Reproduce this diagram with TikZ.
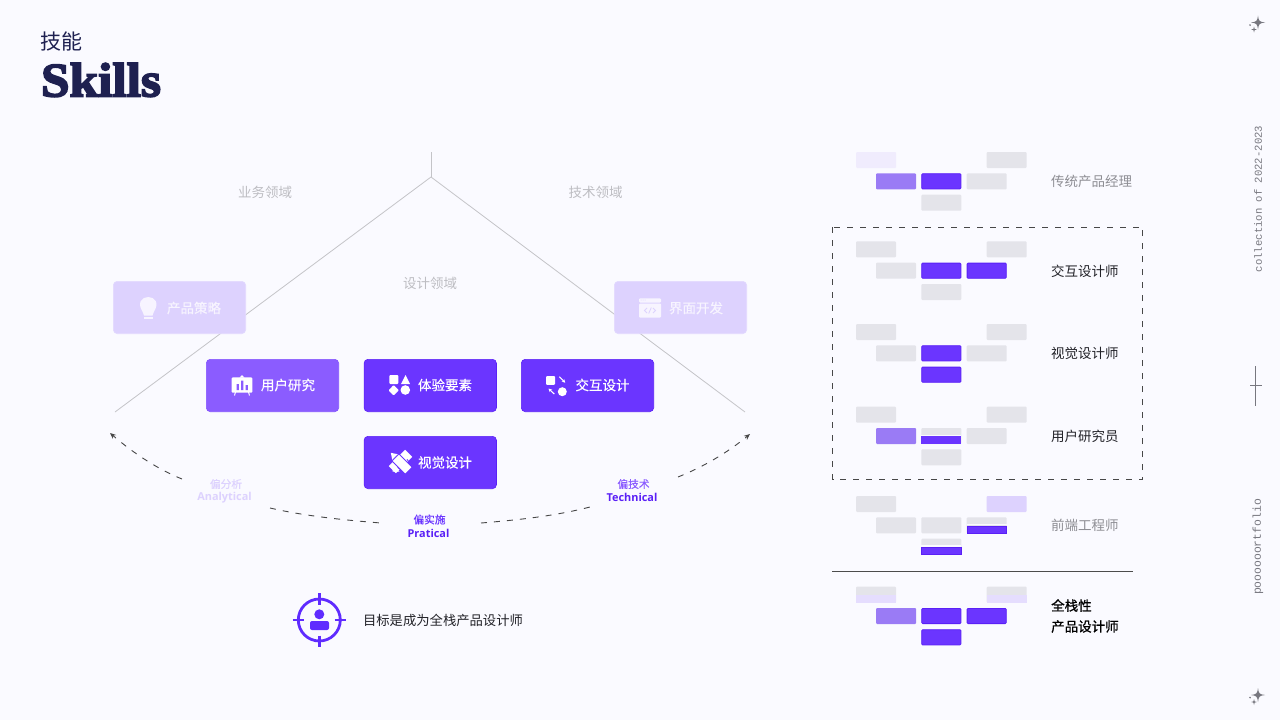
\documentclass[tikz,border=0pt]{standalone}
\usepackage{fontspec}
\usetikzlibrary{arrows.meta}
\newfontfamily\cjk{Noto Sans CJK SC}
\newfontfamily\cjkm[FakeBold=0.35]{Noto Sans CJK SC}
\newfontfamily\cjkb[FakeBold=0.8]{Noto Sans CJK SC}
\newfontfamily\latb{Open Sans}
\newfontfamily\skfont[BoldFeatures={FakeBold=3.6,FakeStretch=1.07}]{Liberation Serif}
\newfontfamily\monof{Liberation Mono}
\newcommand{\fsz}[1]{\fontsize{#1}{#1}\selectfont}
\definecolor{bgc}{HTML}{FAFAFF}
\definecolor{navy}{HTML}{1E2050}
\definecolor{strongfill}{HTML}{6B35FF}
\definecolor{edgep}{HTML}{5A20F6}
\definecolor{midp}{HTML}{8B5CFF}
\definecolor{minimid}{HTML}{9A7BF5}
\definecolor{lightp}{HTML}{DDD2FE}
\definecolor{lightb}{HTML}{E3DAFF}
\definecolor{pale}{HTML}{F0ECFD}
\definecolor{gbox}{HTML}{E4E4EA}
\definecolor{lineg}{HTML}{C4C4C8}
\definecolor{areag}{HTML}{BDBDC2}
\definecolor{roleg}{HTML}{8E8E94}
\definecolor{inkc}{HTML}{222228}
\definecolor{sideg}{HTML}{77777F}
\definecolor{target}{HTML}{5F2BFF}
\tikzset{
  x=1pt,y=-1pt,
  bigbox/.style={minimum width=132.4pt,minimum height=52.4pt,inner sep=0pt,outer sep=0pt,rounded corners=4pt,line width=.6pt},
  boxstrong/.style={bigbox,fill=strongfill,draw=edgep},
  boxmid/.style={bigbox,fill=midp,draw=midp!85!edgep},
  boxlight/.style={bigbox,fill=lightp,draw=lightb},
  boxtext/.style={text=white,font=\cjkm\fsz{13.5},inner sep=0pt},
  lighttext/.style={text=white!75!lightp,font=\cjkm\fsz{13.5},inner sep=0pt},
  areatext/.style={text=areag,font=\cjk\fsz{13.5},inner sep=0pt},
  roletext/.style={anchor=west,font=\cjk\fsz{13.5},inner sep=0pt},
  tinycn/.style={font=\cjkm\fsz{10.7},inner sep=0pt},
  tinyen/.style={font=\latb\bfseries\fsz{10.9},inner sep=0pt},
  mini/.style={minimum width=40pt,minimum height=16pt,inner sep=0pt,outer sep=0pt,rounded corners=1pt},
  mg/.style={mini,fill=gbox},
  ms/.style={mini,minimum width=39.2pt,minimum height=15.2pt,fill=strongfill,draw=edgep,line width=.8pt},
  mm/.style={mini,fill=minimid},
  ml/.style={mini,fill=lightp},
  mp/.style={mini,fill=pale},
  halfs/.style={fill=strongfill,draw=edgep,line width=.6pt},
  dashline/.style={draw=black!72,line width=.9pt,dash pattern=on 6pt off 7pt},
  tip/.style={-{Stealth[length=6pt,width=5pt]}},
  side/.style={font=\monof,text=sideg,rotate=90,inner sep=0pt},
  grayline/.style={draw=lineg,line width=.8pt},
}
\newcommand{\sparkle}[2]{%
  \fill[sideg] (#1,#2-7) .. controls (#1+.6,#2-1.5) and (#1+1.5,#2-.6) .. (#1+7,#2)
    .. controls (#1+1.5,#2+.6) and (#1+.6,#2+1.5) .. (#1,#2+7)
    .. controls (#1-.6,#2+1.5) and (#1-1.5,#2+.6) .. (#1-7,#2)
    .. controls (#1-1.5,#2-.6) and (#1-.6,#2-1.5) .. cycle;
  \fill[sideg] (#1-4,#2+4) -- (#1-3.4,#2+6.4) -- (#1-1.2,#2+7) -- (#1-3.4,#2+7.6) -- (#1-4,#2+10) -- (#1-4.6,#2+7.6) -- (#1-6.8,#2+7) -- (#1-4.6,#2+6.4) -- cycle;
  \fill[sideg] (#1-8,#2+2.6) circle (.9);
}
\begin{document}
\begin{tikzpicture}
\useasboundingbox (0,0) rectangle (1280,720);
\fill[bgc] (0,0) rectangle (1280,720);

% title
\node[anchor=center,inner sep=0pt,text=navy,font=\cjk\fsz{21}] (t1) at (61.5,41.5) {技能};
\node[anchor=center,inner sep=0pt,text=navy,font=\skfont\bfseries\fsz{48}] (t2) at (101,80) {Skills};

% roof lines
\coordinate (roof) at (431,152);
\coordinate (apex) at (431,177);
\coordinate (lfoot) at (115,412);
\coordinate (rfoot) at (745,412);
\draw[grayline] (roof) -- (apex);
\draw[grayline] (lfoot) -- (apex) -- (rfoot);

\node[areatext] (a1) at (265,192) {业务领域};
\node[areatext] (a2) at (595.5,192) {技术领域};
\node[areatext] (a3) at (430,283) {设计领域};

% big boxes
\node[boxlight] (b1) at (179.5,307.5) {};
\node[boxlight] (b2) at (680.5,307.5) {};
\node[boxmid] (b3) at (272.5,385.5) {};
\node[boxstrong] (b4) at (430.25,385.5) {};
\node[boxstrong] (b5) at (587.5,385.5) {};
\node[boxstrong] (b6) at (430.25,462.5) {};
\node[lighttext] (l1) at (194,308) {产品策略};
\node[lighttext] (l2) at (696,308) {界面开发};
\node[boxtext] (l3) at (288,385) {用户研究};
\node[boxtext] (l4) at (445,385) {体验要素};
\node[boxtext] (l5) at (602.5,385) {交互设计};
\node[boxtext] (l6) at (445,462.5) {视觉设计};

% bulb icon
\fill[white!75!lightp] (142.5,311.5) .. controls (137,303) and (141.5,297) .. (148.3,297)
  .. controls (155,297) and (159.5,303) .. (154,311.5) -- (152.5,315.5) -- (144,315.5) -- cycle;
\fill[white!75!lightp] (144,317) rectangle (153,318.8);

% window icon
\fill[white!75!lightp,rounded corners=1pt] (639,298.3) rectangle (661,302.5);
\fill[white!75!lightp,rounded corners=1pt] (639,303.5) rectangle (661,317.7);
\fill[lightp] (641,300) circle (.5) (643,300) circle (.5) (645,300) circle (.5);
\draw[lightp,line width=.8pt] (647,308) -- (644.5,310.5) -- (647,313) (653,308) -- (655.5,310.5) -- (653,313) (651.3,307.5) -- (648.7,313.5);

% board icon
\fill[white,rounded corners=1pt] (231.7,377.3) rectangle (252.3,392.7);
\fill[white] (239.5,377.5) -- (242,375) -- (244.5,377.5) -- cycle;
\draw[white,line width=1pt] (235.5,392) -- (234.5,395.5) (248.5,392) -- (249.5,395.5);
\fill[midp] (236.5,384) rectangle (238.8,390) (241,380.5) rectangle (243.3,390) (245.5,385) rectangle (247.8,390);

% shapes icon
\fill[white,rounded corners=1pt] (389.3,375) rectangle (398.3,384);
\fill[white] (401,384) -- (405.5,375) -- (410,384) -- cycle;
\fill[white,rounded corners=.8pt] (393.7,385) -- (398.9,390.3) -- (393.7,395.5) -- (388.5,390.3) -- cycle;
\fill[white] (405.3,390) circle (4.8);

% interaction icon
\fill[white,rounded corners=1pt] (546,376) rectangle (555,384.8);
\fill[white] (562.3,391.7) circle (4.5);
\draw[white,line width=1.1pt,-{Stealth[length=3.5pt,width=3.5pt]}] (559.3,376.7) -- (565.3,382.7);
\draw[white,line width=1.1pt,-{Stealth[length=3.5pt,width=3.5pt]}] (554.3,394) -- (548.5,388.6);

% pencil / ruler icon
\begin{scope}[shift={(400.5,461.5)},rotate=45]
  \fill[white] (-11.5,-5) rectangle (11.5,5);
  \draw[strongfill,line width=.9pt] (-6,5) -- (-6,2) (-2,5) -- (-2,3) (2,5) -- (2,2) (6,5) -- (6,3);
\end{scope}
\begin{scope}[shift={(400,462)},rotate=-45]
  \fill[white] (-6,-4.6) rectangle (12,4.6);
  \fill[white] (-6,-4.6) -- (-13,0) -- (-6,4.6) -- cycle;
  \draw[strongfill,line width=.9pt] (-6.5,-5) rectangle (12.5,5);
\end{scope}
\fill[white] (392.5,471.5) -- (392.5,464.5) -- (399.5,471.5) -- cycle;

% arc
\coordinate (d1a) at (182,479);
\coordinate (d1b) at (110,433);
\coordinate (d2a) at (270,508);
\coordinate (d2b) at (381,523);
\coordinate (d3a) at (481,523);
\coordinate (d3b) at (590,507);
\coordinate (d4a) at (678,477);
\coordinate (d4b) at (750,434);
\draw[dashline,tip] (d1a) .. controls (157,469) and (132,452) .. (d1b);
\draw[dashline] (d2a) .. controls (305,516) and (343,520) .. (d2b);
\draw[dashline] (d3a) .. controls (518,520) and (555,516) .. (d3b);
\draw[dashline,tip] (d4a) .. controls (703,467) and (727,453) .. (d4b);

\node[tinycn,text=lightp] (p1) at (226,484) {偏分析};
\node[tinyen,text=lightp] (p2) at (224.5,498) {Analytical};
\node[tinycn,text=strongfill] (p3) at (429.5,519.5) {偏实施};
\node[tinyen,text=edgep] (p4) at (428.5,533) {Pratical};
\node[tinycn,text=midp] (p5) at (633.5,484) {偏技术};
\node[tinyen,text=edgep] (p6) at (632,497) {Technical};

% target icon
\draw[target,line width=2.8pt] (319.3,620) circle (21);
\draw[target,line width=2.4pt] (292.7,620) -- (304,620) (334.6,620) -- (346,620) (319.3,593) -- (319.3,604.5) (319.3,635.5) -- (319.3,646.7);
\fill[target] (319.3,614.3) circle (5);
\fill[target,rounded corners=2pt] (310,621) rectangle (329,630);
\node[anchor=center,inner sep=0pt,text=inkc,font=\cjk\fsz{13.33}] (goal) at (443,620.5) {目标是成为全栈产品设计师};

% minis: group 1
\node[mp] (g1a) at (876,160) {};
\node[mg] (g1b) at (1006.7,160) {};
\node[mm] (g1c) at (896,181.3) {};
\node[ms] (g1d) at (941.3,181.3) {};
\node[mg] (g1e) at (986.7,181.3) {};
\node[mg] (g1f) at (941.3,202.7) {};
% group 2
\node[mg] (g2a) at (876,249.3) {};
\node[mg] (g2b) at (1006.7,249.3) {};
\node[mg] (g2c) at (896,270.7) {};
\node[ms] (g2d) at (941.3,270.7) {};
\node[ms] (g2e) at (986.7,270.7) {};
\node[mg] (g2f) at (941.3,292) {};
% group 3
\node[mg] (g3a) at (876,332) {};
\node[mg] (g3b) at (1006.7,332) {};
\node[mg] (g3c) at (896,353.3) {};
\node[ms] (g3d) at (941.3,353.3) {};
\node[mg] (g3e) at (986.7,353.3) {};
\node[ms] (g3f) at (941.3,374.7) {};
% group 4
\node[mg] (g4a) at (876,414.7) {};
\node[mg] (g4b) at (1006.7,414.7) {};
\node[mm] (g4c) at (896,436) {};
\node[mg] (g4d) at (941.3,436) {};
\fill[bgc] (921.3,434.8) rectangle (961.3,436);
\fill[strongfill] (921.3,436) rectangle (961.3,444);
\node[mg] (g4e) at (986.7,436) {};
\node[mg] (g4f) at (941.3,457.3) {};
% group 5
\node[mg] (g5a) at (876,504) {};
\node[ml] (g5b) at (1006.7,504) {};
\node[mg] (g5c) at (896,525.3) {};
\node[mg] (g5d) at (941.3,525.3) {};
\node[mg] (g5e) at (986.7,525.3) {};
\fill[bgc] (966.7,524) rectangle (1006.7,525.3);
\path[halfs] (967,525.8) rectangle (1006.4,533);
\node[mg] (g5f) at (941.3,546.7) {};
\fill[bgc] (921.3,545.3) rectangle (961.3,546.8);
\path[halfs] (921.6,547.3) rectangle (961,554.4);
% group 6
\node[mg] (g6a) at (876,594.7) {};
\fill[lightp!75!white] (856,595) rectangle (896,602.7);
\node[mg] (g6b) at (1006.7,594.7) {};
\fill[lightp!75!white] (986.7,595) rectangle (1026.7,602.7);
\node[mm] (g6c) at (896,616) {};
\node[ms] (g6d) at (941.3,616) {};
\node[ms] (g6e) at (986.7,616) {};
\node[ms] (g6f) at (941.3,637.3) {};

% dashed frame and divider
\coordinate (fa) at (832.5,227);
\coordinate (fb) at (1142.5,479.5);
\draw[black!72,line width=.9pt,dash pattern=on 6pt off 7pt] (fa) rectangle (fb);
\coordinate (da) at (832,571);
\coordinate (db) at (1133,571);
\draw[black!70,line width=.9pt] (da) -- (db);

% role labels
\node[roletext,text=roleg] (r1) at (1051,181.5) {传统产品经理};
\node[roletext,text=inkc] (r2) at (1051,271) {交互设计师};
\node[roletext,text=inkc] (r3) at (1051,353.5) {视觉设计师};
\node[roletext,text=inkc] (r4) at (1051,436.5) {用户研究员};
\node[roletext,text=roleg] (r5) at (1051,525.5) {前端工程师};
\node[roletext,text=black,font=\cjkb\fsz{13.5}] (r6) at (1051,605.5) {全栈性};
\node[roletext,text=black,font=\cjkb\fsz{13.5}] (r7) at (1051,626.5) {产品设计师};

% side decoration
\sparkle{1258}{22.5}
\sparkle{1258}{695}
\node[side,font=\monof\fsz{10.6}] (s1) at (1258,199) {collection of 2022-2023};
\node[side,font=\monof\fsz{11.4}] (s2) at (1258,547) {poooooortfolio};
\coordinate (c1) at (1255.5,366);
\coordinate (c2) at (1255.5,405.7);
\coordinate (c3) at (1250,385);
\coordinate (c4) at (1262,385);
\draw[sideg,line width=.7pt] (c1) -- (c2) (c3) -- (c4);
\end{tikzpicture}
\end{document}
